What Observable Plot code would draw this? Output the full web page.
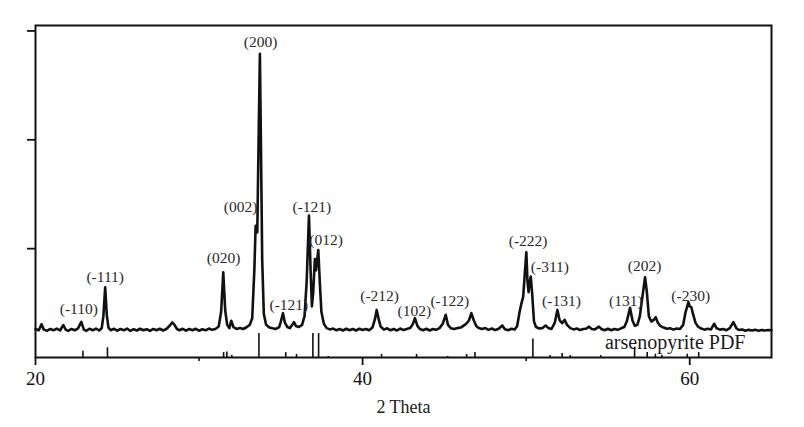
<!DOCTYPE html>
<html><head><meta charset="utf-8">
<script src="https://cdn.jsdelivr.net/npm/d3@7"></script>
<script src="https://cdn.jsdelivr.net/npm/@observablehq/plot@0.6"></script>
<style>html,body{margin:0;padding:0;background:#fff}svg{display:block}svg text{font-family:"Liberation Serif","Times New Roman",Times,serif}</style>
</head><body><div id="chart"></div>
<script>
// XRD pattern: 2θ (degrees) and intensity (counts)
const twoTheta = [
  20.0, 20.2, 20.37, 20.5, 20.7, 20.9, 21.1, 21.3, 21.5, 21.7,
  21.85, 22.0, 22.2, 22.4, 22.6, 22.8, 22.95, 23.1, 23.3, 23.5,
  23.7, 23.9, 24.05, 24.15, 24.26, 24.36, 24.46, 24.6, 24.8, 25.0,
  25.2, 25.4, 25.6, 25.8, 26.0, 26.2, 26.4, 26.6, 26.8, 27.0,
  27.2, 27.4, 27.6, 27.8, 28.0, 28.2, 28.36, 28.5, 28.65, 28.8,
  29.0, 29.2, 29.4, 29.6, 29.8, 30.0, 30.2, 30.4, 30.6, 30.8,
  31.0, 31.2, 31.35, 31.48, 31.6, 31.72, 31.85, 31.97, 32.1, 32.3,
  32.5, 32.7, 32.9, 33.1, 33.25, 33.38, 33.46, 33.56, 33.66, 33.72,
  33.78, 33.86, 33.96, 34.1, 34.3, 34.5, 34.7, 34.9, 35.0, 35.13,
  35.25, 35.4, 35.55, 35.7, 35.8, 35.92, 36.1, 36.3, 36.45, 36.58,
  36.72, 36.82, 36.9, 36.98, 37.08, 37.15, 37.2, 37.29, 37.38, 37.48,
  37.63, 37.8, 38.0, 38.2, 38.4, 38.6, 38.8, 39.0, 39.2, 39.4,
  39.6, 39.8, 40.0, 40.2, 40.4, 40.6, 40.75, 40.86, 40.97, 41.1,
  41.3, 41.5, 41.7, 41.9, 42.1, 42.3, 42.5, 42.7, 42.9, 43.05,
  43.2, 43.35, 43.5, 43.7, 43.9, 44.1, 44.3, 44.5, 44.7, 44.9,
  45.08, 45.22, 45.4, 45.6, 45.8, 46.0, 46.2, 46.35, 46.5, 46.65,
  46.8, 46.95, 47.1, 47.3, 47.5, 47.7, 47.9, 48.1, 48.3, 48.54,
  48.7, 48.9, 49.1, 49.3, 49.45, 49.6, 49.7, 49.82, 49.92, 50.01,
  50.08, 50.15, 50.2, 50.28, 50.36, 50.48, 50.6, 50.8, 51.0, 51.19,
  51.35, 51.55, 51.75, 51.91, 52.05, 52.2, 52.35, 52.5, 52.7, 52.9,
  53.1, 53.3, 53.5, 53.7, 53.84, 54.0, 54.2, 54.45, 54.6, 54.8,
  55.0, 55.2, 55.4, 55.6, 55.8, 56.0, 56.15, 56.35, 56.5, 56.65,
  56.8, 56.95, 57.1, 57.27, 57.38, 57.5, 57.65, 57.8, 57.92, 58.05,
  58.2, 58.4, 58.6, 58.8, 59.0, 59.2, 59.4, 59.6, 59.75, 59.92,
  60.0, 60.1, 60.2, 60.35, 60.5, 60.7, 60.9, 61.1, 61.3, 61.49,
  61.65, 61.85, 62.05, 62.25, 62.45, 62.67, 62.85, 63.0, 63.2, 63.4,
  63.6, 63.8, 64.0, 64.2, 64.4, 64.6, 64.8, 65.0
];
const counts = [
  262, 250, 305, 258, 245, 262, 250, 266, 248, 298,
  255, 244, 262, 250, 268, 328, 258, 245, 264, 250,
  266, 248, 270, 380, 645, 390, 275, 250, 264, 246,
  262, 250, 266, 244, 260, 248, 264, 250, 260, 244,
  262, 250, 264, 248, 262, 292, 322, 300, 262, 250,
  264, 246, 262, 250, 264, 246, 260, 250, 266, 254,
  262, 285, 420, 783, 430, 300, 270, 338, 280, 262,
  270, 262, 278, 300, 360, 800, 1211, 1150, 2200, 2789,
  2000, 900, 400, 300, 275, 268, 262, 280, 330, 407,
  320, 280, 270, 300, 325, 290, 280, 300, 380, 700,
  1303, 800, 470, 600, 905, 800, 870, 988, 700, 420,
  310, 270, 258, 266, 250, 262, 248, 264, 250, 262,
  248, 264, 252, 262, 250, 275, 350, 437, 360, 285,
  256, 268, 250, 262, 248, 266, 252, 262, 270, 300,
  361, 290, 262, 250, 264, 248, 262, 254, 270, 310,
  392, 300, 268, 262, 270, 275, 295, 312, 340, 407,
  340, 290, 270, 262, 270, 254, 266, 252, 262, 294,
  260, 250, 264, 258, 290, 420, 490, 560, 780, 966,
  700, 600, 680, 743, 600, 330, 280, 266, 270, 294,
  272, 262, 320, 437, 340, 315, 346, 300, 270, 258,
  266, 252, 262, 266, 284, 262, 258, 284, 262, 250,
  264, 250, 262, 254, 268, 280, 330, 456, 340, 290,
  300, 380, 550, 737, 600, 380, 330, 345, 370, 320,
  290, 275, 264, 268, 256, 266, 262, 300, 420, 508,
  470, 462, 400, 320, 285, 266, 256, 264, 258, 310,
  268, 256, 262, 250, 270, 325, 270, 252, 258, 246,
  254, 248, 254, 246, 252, 248, 252, 250
];

// Reference (PDF) stick pattern
const pdfTheta  = [22.9, 24.4, 31.5, 31.7, 32.0, 33.66, 35.3, 35.96, 36.96, 37.31, 37.9, 41.16, 43.3, 45.2, 46.36, 46.87, 50.41, 51.46, 52.2, 52.7, 54.56, 56.63, 57.4, 57.9, 58.3, 59.85, 60.55];
const pdfHeight = [58, 90, 45, 50, 20, 220, 45, 28, 220, 220, 10, 28, 28, 10, 28, 45, 171, 18, 36, 18, 18, 95, 45, 30, 20, 30, 45];

// Miller-index annotations (label, 2θ position, intensity position)
const peakLabels = ["(-110)", "(-111)", "(020)", "(002)", "(200)", "(-121)", "(-121)", "(012)", "(-212)", "(102)", "(-122)", "(-222)", "(-311)", "(-131)", "(131)", "(202)", "(-230)"];
const labelTheta = [22.65, 24.26, 31.5, 32.54, 33.76, 35.49, 36.9, 37.77, 41.04, 43.16, 45.33, 50.12, 51.45, 52.16, 56.09, 57.24, 60.06];
const labelCounts = [447, 743, 911, 1379, 2899, 486, 1379, 1080, 569, 431, 517, 1067, 835, 523, 523, 844, 569];

const xMajorTicks = [20, 40, 60];
const xMinorTicks = [30, 50];
const yTicks = [1000, 2000, 3000];

const pattern = twoTheta.map((t, i) => ({t, c: counts[i]}));
const sticks = pdfTheta.map((t, i) => ({t, h: pdfHeight[i]}));
const labels = peakLabels.map((s, i) => ({s, t: labelTheta[i], c: labelCounts[i]}));

const serif = '"Liberation Serif", "Times New Roman", Times, serif';

const chart = Plot.plot({
  width: 804,
  height: 427,
  marginLeft: 35,
  marginRight: 33,
  marginTop: 25,
  marginBottom: 70,
  style: {fontFamily: serif, background: "#fff", color: "#111", overflow: "visible"},
  x: {domain: [20, 65]},
  y: {domain: [0, 3050]},
  marks: [
    Plot.line(pattern, {x: "t", y: "c", stroke: "#111", strokeWidth: 2.6, strokeLinejoin: "round"}),
    Plot.ruleX(sticks, {x: "t", y1: 0, y2: "h", stroke: "#111", strokeWidth: 1.6}),
    Plot.text(labels, {x: "t", y: "c", text: "s", fontSize: 15.5, fontFamily: serif, fill: "#2a2a2a", lineAnchor: "middle"}),
    Plot.text(["arsenopyrite PDF"], {frameAnchor: "bottom-right", textAnchor: "end", lineAnchor: "bottom", dx: -26, dy: -9, fontSize: 20, fontFamily: serif, fill: "#1a1a1a"}),
    Plot.axisX({ticks: xMajorTicks, tickSize: 8, tickPadding: 6, fontSize: 19, fontFamily: serif, strokeWidth: 1.8, label: null, color: "#111"}),
    Plot.axisX({ticks: xMinorTicks, tickSize: 4, tickFormat: () => "", strokeWidth: 1.6, label: null}),
    Plot.axisY({ticks: yTicks, tickSize: 8, tickFormat: () => "", strokeWidth: 1.8, label: null}),
    Plot.frame({stroke: "#111", strokeWidth: 2}),
    Plot.text(["2 Theta"], {frameAnchor: "bottom", dy: 50, lineAnchor: "middle", fontSize: 18, fontFamily: serif, fill: "#1a1a1a"})
  ]
});
document.getElementById("chart").appendChild(chart);
</script>
</body></html>
